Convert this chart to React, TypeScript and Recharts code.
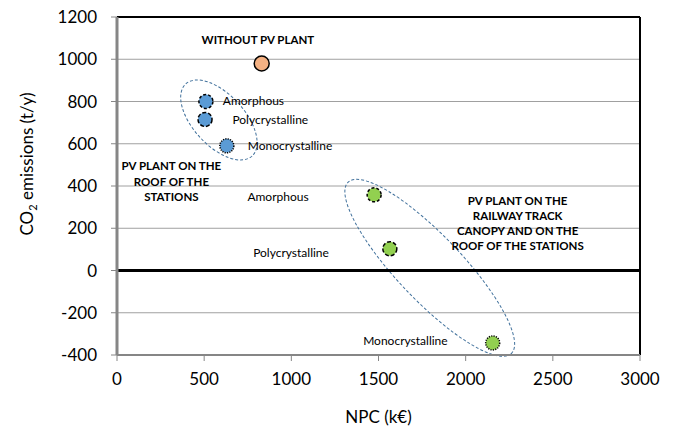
import {
  CartesianGrid,
  Label,
  ReferenceArea,
  ReferenceDot,
  ReferenceLine,
  Scatter,
  ScatterChart,
  XAxis,
  YAxis,
} from 'recharts'

// NPC (k€) vs CO2 emissions (t/y) per scenario and PV technology
const technologies = ['Amorphous', 'Polycrystalline', 'Monocrystalline']

const baseNpc = [830]
const baseCo2 = [980]

const roofNpc = [510, 505, 630]
const roofCo2 = [800, 715, 590]

const canopyNpc = [1475, 1565, 2155]
const canopyCo2 = [358, 103, -343]

const xTicks = [0, 500, 1000, 1500, 2000, 2500, 3000]
const yTicks = [-400, -200, 0, 200, 400, 600, 800, 1000, 1200]

// annotation anchors (data units)
const smallLabels = [
  { text: 'Amorphous', x: 607, y: 803 },
  { text: 'Polycrystalline', x: 662, y: 715 },
  { text: 'Monocrystalline', x: 750, y: 590 },
  { text: 'Amorphous', x: 748, y: 352 },
  { text: 'Polycrystalline', x: 781, y: 84 },
  { text: 'Monocrystalline', x: 1412, y: -329 },
]

const boldLabels = [
  { lines: ['WITHOUT PV PLANT'], x: 808, y: 1094 },
  { lines: ['PV PLANT ON THE', 'ROOF OF THE', 'STATIONS'], x: 312, y: 498 },
  {
    lines: ['PV PLANT ON THE', 'RAILWAY TRACK', 'CANOPY AND ON THE', 'ROOF OF THE STATIONS'],
    x: 2298,
    y: 336,
  },
]

// dashed rings: ends of the major axis in data units
const rings = [
  { x1: 394, y1: 883, x2: 775, y2: 542, minor: 25.7 },
  { x1: 1326, y1: 418, x2: 2262, y2: -393, minor: 32.4 },
]

const BLUE = '#5B9BD5'
const GREEN = '#92D050'
const ORANGE = '#F4B183'
const FONT = 'Lato, "Open Sans", sans-serif'

const borderDash: Record<string, string> = {
  Amorphous: '3 2',
  Polycrystalline: '4 2',
  Monocrystalline: '1.2 1.2',
}

const baseData = baseNpc.map((npc, i) => ({ npc, co2: baseCo2[i], tech: 'none' }))
const roofData = roofNpc.map((npc, i) => ({ npc, co2: roofCo2[i], tech: technologies[i] }))
const canopyData = canopyNpc.map((npc, i) => ({ npc, co2: canopyCo2[i], tech: technologies[i] }))

function marker(fill: string, r: number) {
  return (props: any) => {
    const { cx, cy, payload } = props
    return (
      <circle
        cx={cx}
        cy={cy}
        r={r}
        fill={fill}
        stroke="#000"
        strokeWidth={1.5}
        strokeDasharray={borderDash[payload.tech]}
      />
    )
  }
}

function ring(minor: number) {
  return (props: any) => {
    const { x, y, width, height } = props
    const cx = x + width / 2
    const cy = y + height / 2
    const major = Math.sqrt(width * width + height * height) / 2
    const angle = (Math.atan2(height, width) * 180) / Math.PI
    return (
      <ellipse
        cx={cx}
        cy={cy}
        rx={major}
        ry={minor}
        transform={`rotate(${angle} ${cx} ${cy})`}
        fill="none"
        stroke="#41719C"
        strokeWidth={1}
        strokeDasharray="3 2"
      />
    )
  }
}

export default function App() {
  return (
    <div style={{ position: 'absolute', left: 0, top: 0, background: '#fff' }}>
      <ScatterChart width={679} height={427} margin={{ top: 17, right: 39, bottom: 0, left: 0 }}>
        <CartesianGrid vertical={false} stroke="#A0A0A0" strokeWidth={1} />
        <XAxis
          type="number"
          dataKey="npc"
          domain={[0, 3000]}
          ticks={xTicks}
          interval={0}
          height={72}
          axisLine={{ stroke: '#868686', strokeWidth: 2 }}
          tickLine={{ stroke: '#868686' }}
          tickSize={6}
          tickMargin={12}
          tick={{ fill: '#000', fontSize: 17, fontFamily: FONT }}
        >
          <Label
            value="NPC (k€)"
            position="insideBottom"
            offset={4}
            style={{ fill: '#000', fontSize: 17, fontFamily: FONT }}
          />
        </XAxis>
        <YAxis
          type="number"
          dataKey="co2"
          domain={[-400, 1200]}
          ticks={yTicks}
          interval={0}
          width={117}
          axisLine={{ stroke: '#868686', strokeWidth: 3 }}
          tickLine={{ stroke: '#868686' }}
          tickSize={6}
          tickMargin={14}
          tick={{ fill: '#000', fontSize: 17, fontFamily: FONT }}
          label={(props: any) => {
            const vb = props.viewBox
            const x = 33
            const y = vb.y + vb.height / 2 - 22
            return (
              <text
                x={x}
                y={y}
                transform={`rotate(-90 ${x} ${y})`}
                textAnchor="middle"
                style={{ fill: '#000', fontSize: 17, fontFamily: FONT }}
              >
                CO
                <tspan fontSize={11} dy={4}>2</tspan>
                <tspan dy={-4}> emissions (t/y)</tspan>
              </text>
            )
          }}
        />
        <ReferenceLine y={1200} stroke="#000" strokeWidth={2} />
        <ReferenceLine x={3000} stroke="#000" strokeWidth={2} />
        <ReferenceLine y={0} stroke="#000" strokeWidth={3} />
        {rings.map((r, i) => (
          <ReferenceArea
            key={i}
            x1={r.x1}
            x2={r.x2}
            y1={r.y1}
            y2={r.y2}
            shape={ring(r.minor)}
          />
        ))}
        {smallLabels.map((l, i) => (
          <ReferenceDot
            key={`s${i}`}
            x={l.x}
            y={l.y}
            r={0}
            shape={(p: any) => (
              <text
                x={p.cx}
                y={p.cy}
                dominantBaseline="central"
                style={{ fill: '#000', fontSize: 12, fontFamily: FONT }}
              >
                {l.text}
              </text>
            )}
          />
        ))}
        {boldLabels.map((l, i) => (
          <ReferenceDot
            key={`b${i}`}
            x={l.x}
            y={l.y}
            r={0}
            shape={(p: any) => (
              <text
                textAnchor="middle"
                dominantBaseline="central"
                style={{ fill: '#000', fontSize: 11.5, fontWeight: 700, fontFamily: FONT }}
              >
                {l.lines.map((line, j) => (
                  <tspan key={j} x={p.cx} y={p.cy + j * 15.3}>
                    {line}
                  </tspan>
                ))}
              </text>
            )}
          />
        ))}
        <Scatter data={baseData} fill={ORANGE} shape={marker(ORANGE, 7.5)} isAnimationActive={false} />
        <Scatter data={roofData} fill={BLUE} shape={marker(BLUE, 7)} isAnimationActive={false} />
        <Scatter data={canopyData} fill={GREEN} shape={marker(GREEN, 7)} isAnimationActive={false} />
      </ScatterChart>
    </div>
  )
}
